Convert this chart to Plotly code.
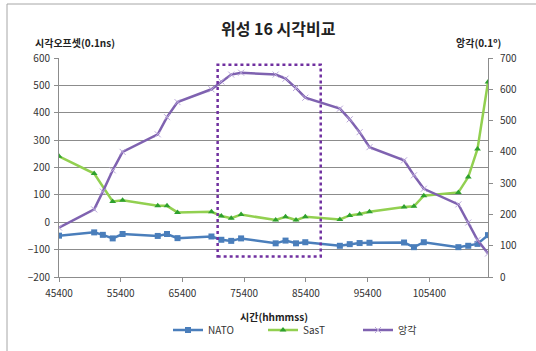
import plotly.graph_objects as go

# ---- data ----
time_hhmmss = [45400, 51100, 52500, 54100, 55700, 61400, 62900, 64600, 70100, 71700,
               73300, 74900, 80500, 82100, 83800, 85300, 90900, 92500, 94100, 95700,
               101300, 102900, 104500, 110100, 111700, 113200, 114900]
nato = [-49, -37, -46, -59, -43, -50, -43, -58, -52, -64, -68, -59, -77, -67, -77, -73,
        -86, -80, -76, -75, -74, -91, -73, -91, -86, -79, -47]
sast = [241, 178, None, 76, 80, 60, 60, 36, 38, 23, 15, 28, 8, 20, 8, 20,
        10, 25, 30, 38, 56, 58, 97, 109, 165, 268, 512]
elevation = [158, 216, 273, 341, 400, 456, 511, 559, 600, 625, 647, 653, 647, 634, 604, 573,
             538, 504, 463, 415, 373, 325, 282, 232, 174, 118, 75]

x_ticks = [45400, 55400, 65400, 75400, 85400, 95400, 105400]
left_ticks = [-200, -100, 0, 100, 200, 300, 400, 500, 600]
right_ticks = [0, 100, 200, 300, 400, 500, 600, 700]

# highlighted window (dotted box), in data coordinates
box_x = [71100, 87800]
box_y = [-125, 575]

W, H = 536, 351
ML, MR, MT, MB = 59, 48, 58, 74
FONT = "Noto Sans CJK KR, Malgun Gothic, sans-serif"
GRID = "#8c8c8c"

fig = go.Figure()
fig.add_trace(go.Scatter(
    x=time_hhmmss, y=nato, name="NATO", mode="lines+markers",
    line=dict(color="#4a7ebb", width=2.5),
    marker=dict(symbol="square", size=6, color="#4a7ebb"),
))
fig.add_trace(go.Scatter(
    x=time_hhmmss, y=sast, name="SasT", mode="lines+markers", connectgaps=True,
    line=dict(color="#92d050", width=2.5),
    marker=dict(symbol="triangle-up", size=6, color="#2ea02e"),
))
fig.add_trace(go.Scatter(
    x=time_hhmmss, y=elevation, name="앙각", mode="lines+markers", yaxis="y2",
    line=dict(color="#7f62b0", width=2.5),
    marker=dict(symbol="x-thin", size=6, color="#b9a6d9", line=dict(color="#b9a6d9", width=1)),
))

pw = W - ML - MR
ph = H - MT - MB

def px_x(p):
    return (p - ML) / pw

def px_y(p):
    return (H - MB - p) / ph

shapes = [
    dict(type="rect", xref="x", yref="y", x0=box_x[0], x1=box_x[1], y0=box_y[0], y1=box_y[1],
         line=dict(color="#7030a0", width=2.5, dash="dot"), layer="above"),
    # chart-area border (top and left visible)
    dict(type="line", xref="paper", yref="paper", x0=px_x(7), x1=px_x(W + 5), y0=px_y(4), y1=px_y(4),
         line=dict(color="#a6a6a6", width=1)),
    dict(type="line", xref="paper", yref="paper", x0=px_x(7), x1=px_x(7), y0=px_y(4), y1=px_y(H + 5),
         line=dict(color="#a6a6a6", width=1)),
]

annotations = [
    dict(text="<b>위성 16 시각비교</b>", xref="paper", yref="paper", x=px_x(278), y=px_y(28),
         showarrow=False, font=dict(family=FONT, size=16, color="#222"), xanchor="center", yanchor="middle"),
    dict(text="<b>시각오프셋(0.1ns)</b>", xref="paper", yref="paper", x=px_x(33), y=px_y(43),
         showarrow=False, font=dict(family=FONT, size=10, color="#222"), xanchor="left", yanchor="middle"),
    dict(text="<b>앙각(0.1º)</b>", xref="paper", yref="paper", x=px_x(503), y=px_y(43),
         showarrow=False, font=dict(family=FONT, size=10, color="#222"), xanchor="right", yanchor="middle"),
    dict(text="<b>시간(hhmmss)</b>", xref="paper", yref="paper", x=px_x(274), y=px_y(316),
         showarrow=False, font=dict(family=FONT, size=10, color="#222"), xanchor="center", yanchor="middle"),
]

tickfont = dict(family=FONT, size=10, color="#333")

fig.update_layout(
    width=W, height=H,
    margin=dict(l=ML, r=MR, t=MT, b=MB, pad=0, autoexpand=False),
    paper_bgcolor="white", plot_bgcolor="white",
    font=dict(family=FONT),
    showlegend=True,
    legend=dict(orientation="h", x=px_x(168), y=px_y(330), xanchor="left", yanchor="middle",
                font=dict(family=FONT, size=10, color="#333"), itemwidth=30,
                entrywidth=50, entrywidthmode="pixels",
                tracegroupgap=0, bgcolor="rgba(0,0,0,0)"),
    xaxis=dict(range=[time_hhmmss[0], time_hhmmss[-1]], tickvals=x_ticks,
               ticktext=[str(v) for v in x_ticks], showgrid=False, zeroline=False,
               showline=True, linecolor=GRID, linewidth=1, ticks="outside", ticklen=4,
               tickcolor=GRID, tickfont=tickfont, automargin=False, ticklabelstandoff=3),
    yaxis=dict(range=[-200, 600], tickvals=left_ticks, showgrid=True, gridcolor=GRID,
               gridwidth=1, zeroline=False, showline=True, linecolor=GRID, linewidth=1,
               ticks="outside", ticklen=4, tickcolor=GRID, tickfont=tickfont, automargin=False,
               ticklabelstandoff=2),
    yaxis2=dict(range=[0, 700], tickvals=right_ticks, overlaying="y", side="right",
                showgrid=False, zeroline=False, showline=True, linecolor=GRID, linewidth=1,
                ticks="outside", ticklen=4, tickcolor=GRID, tickfont=tickfont, automargin=False,
                ticklabelstandoff=5),
    shapes=shapes,
    annotations=annotations,
)

fig.write_html("out.html")
